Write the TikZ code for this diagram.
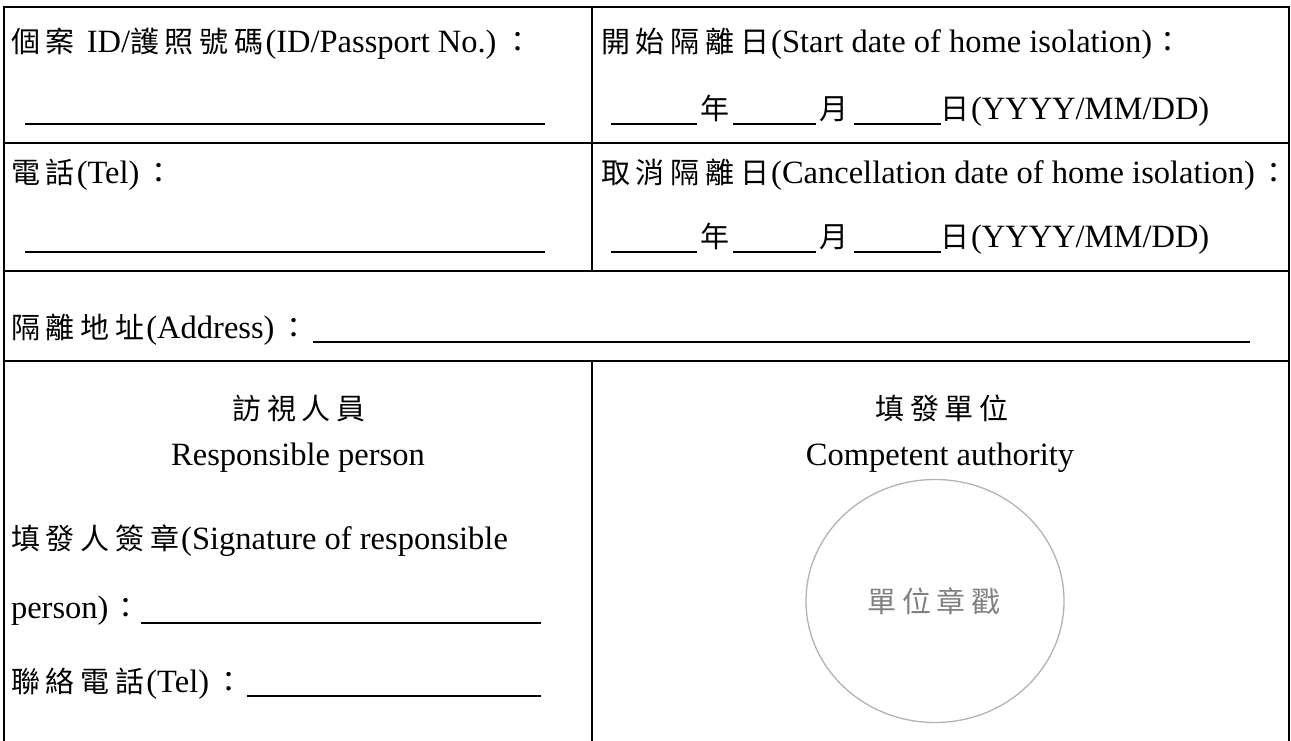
\documentclass[tikz,border=0pt]{standalone}
\usetikzlibrary{shapes.geometric}
\usepackage{fontspec}
\setmainfont{Liberation Serif}
\newfontfamily\cjkfont[LetterSpace=20]{Noto Sans CJK TC}
\newcommand\zhtxt[1]{{\cjkfont\fontsize{29}{34}\selectfont #1}\kern2pt}
\newcommand\zhcolon{\kern5pt{\cjkfont\fontsize{29}{34}\selectfont ：}}
\newcommand\fsbig{\fontsize{32.5}{38}\selectfont}
\begin{document}
\begin{tikzpicture}[x=1pt,y=-1pt,
  border/.style={line width=2.5pt, line cap=rect},
  uline/.style={line width=2pt},
  lbl/.style={inner sep=0pt, outer sep=0pt, anchor=base west, font=\fsbig},
  ctr/.style={inner sep=0pt, outer sep=0pt, anchor=base, font=\fsbig},
  seal/.style={draw=black!30, line width=1.3pt, ellipse, minimum width=258pt, minimum height=243pt, inner sep=0pt, text=black!50}
]
\useasboundingbox (0,0) rectangle (1291,740);
% table frame
\draw[border] (4,740) -- (4,7) -- (1289,7) -- (1289,740);
\draw[border] (4,143) -- (1289,143);
\draw[border] (4,271) -- (1289,271);
\draw[border] (4,361) -- (1289,361);
\draw[border] (592,7) -- (592,271);
\draw[border] (592,361) -- (592,740);

% row 1 left
\node[lbl] (idlbl) at (11,52) {\zhtxt{個案}\hspace{10pt}ID/\zhtxt{護照號碼}(ID/Passport No.)\kern2pt\zhcolon};
\draw[uline] (25,124) -- (545,124);
% row 2 left
\node[lbl] (tellbl) at (11,183) {\zhtxt{電話}(Tel)\zhcolon};
\draw[uline] (25,252) -- (545,252);

% row 1 right
\node[lbl] (startlbl) at (601,52) {\zhtxt{開始隔離日}(Start date of home isolation)\kern-4pt\zhcolon};
\draw[uline] (611,124) -- (697,124);
\node[ctr] (y1) at (716,119) {\zhtxt{年}};
\draw[uline] (733,124) -- (816,124);
\node[ctr] (m1) at (835,119) {\zhtxt{月}};
\draw[uline] (854,124) -- (941,124);
\node[lbl] (d1) at (940,119) {\zhtxt{日}(YYYY/MM/DD)};
% row 2 right
\node[lbl] (cancellbl) at (601,183) {\zhtxt{取消隔離日}(Cancellation date of home isolation)\zhcolon};
\draw[uline] (611,252) -- (697,252);
\node[ctr] (y2) at (716,247) {\zhtxt{年}};
\draw[uline] (733,252) -- (816,252);
\node[ctr] (m2) at (835,247) {\zhtxt{月}};
\draw[uline] (854,252) -- (941,252);
\node[lbl] (d2) at (940,247) {\zhtxt{日}(YYYY/MM/DD)};

% address row
\node[lbl] (addr) at (11,338) {\zhtxt{隔離地址}(Address)\zhcolon};
\draw[uline] (313,342) -- (1250,342);

% bottom left
\node[ctr] (visit) at (300,419) {\zhtxt{訪視人員}};
\node[ctr] (resp) at (298,465) {Responsible person};
\node[lbl] (sig) at (11,549) {\zhtxt{填發人簽章}(Signature of responsible};
\node[lbl] (sig2) at (11,618) {person)\kern-2pt\zhcolon};
\draw[uline] (141,623) -- (541,623);
\node[lbl] (ctel) at (11,692) {\zhtxt{聯絡電話}(Tel)\zhcolon};
\draw[uline] (247,696) -- (541,696);

% bottom right
\node[ctr] (unit) at (943,419) {\zhtxt{填發單位}};
\node[ctr] (auth) at (940,465) {Competent authority};
\node[seal] (sealc) at (935,601) {\zhtxt{單位章戳}};
\end{tikzpicture}
\end{document}
